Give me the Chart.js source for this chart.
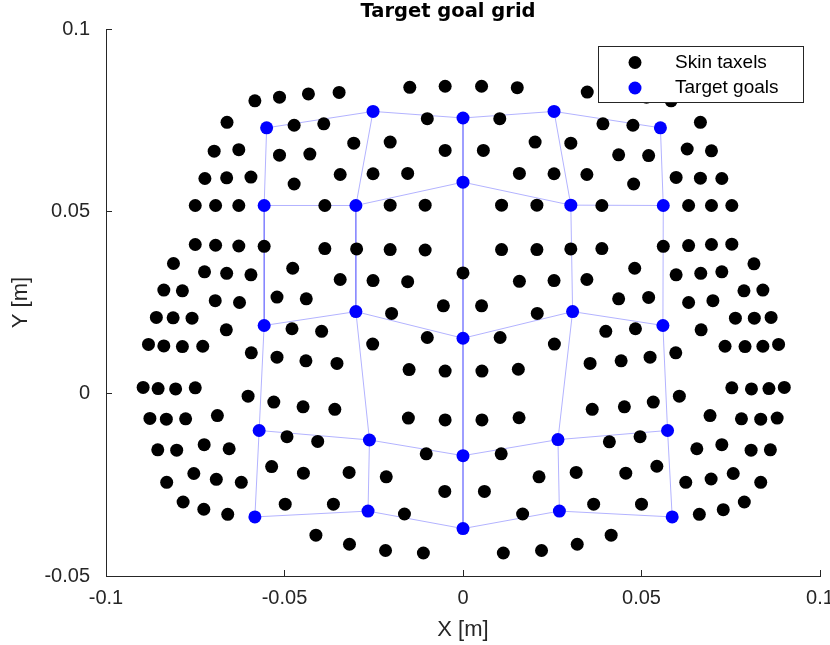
<!DOCTYPE html>
<html><head><meta charset="utf-8">
<script src="https://cdn.jsdelivr.net/npm/chart.js@4.4.1/dist/chart.umd.min.js"></script>
<style>html,body{margin:0;padding:0;background:#fff}#wrap{width:830px;height:645px}</style>
</head><body><div id="wrap"><canvas id="c" width="830" height="645"></canvas></div>
<script>
const chartTitle = 'Target goal grid';
const xAxisTitle = 'X [m]';
const yAxisTitle = 'Y [m]';
const seriesNames = ['Skin taxels', 'Target goals'];
const xTicks = [-0.1, -0.05, 0, 0.05, 0.1];
const xTickLabels = ['-0.1', '-0.05', '0', '0.05', '0.1'];
const yTicks = [-0.05, 0, 0.05, 0.1];
const yTickLabels = ['-0.05', '0', '0.05', '0.1'];

const taxelX = [
 -0.0583,-0.0514,-0.0433,-0.0347,-0.0149,-0.0050,0.0052,0.0152,0.0348,0.0433,0.0514,0.0583,
 -0.0661,-0.0473,-0.0390,-0.0100,0.0103,0.0392,0.0476,0.0665,
 -0.0697,-0.0628,-0.0514,-0.0429,-0.0306,-0.0204,-0.0050,0.0057,0.0202,0.0302,0.0436,0.0520,0.0628,0.0696,
 -0.0723,-0.0662,-0.0594,-0.0473,-0.0344,-0.0252,-0.0155,0.0158,0.0255,0.0347,0.0478,0.0597,0.0665,0.0725,
 -0.0750,-0.0693,-0.0628,-0.0387,-0.0204,-0.0106,0.0108,0.0207,0.0389,0.0632,0.0696,0.0753,
 -0.0750,-0.0693,-0.0628,-0.0557,-0.0387,-0.0298,-0.0204,-0.0106,0.0108,0.0207,0.0302,0.0389,0.0561,0.0632,0.0696,0.0753,
 -0.0811,-0.0724,-0.0662,-0.0594,-0.0477,-0.0344,-0.0252,-0.0155,0.0000,0.0158,0.0255,0.0347,0.0481,0.0597,0.0666,0.0725,0.0815,
 -0.0838,-0.0786,-0.0694,-0.0626,-0.0521,-0.0439,-0.0055,0.0052,0.0436,0.0520,0.0632,0.0700,0.0787,0.0840,
 -0.0859,-0.0812,-0.0759,-0.0663,-0.0479,-0.0396,-0.0200,0.0208,0.0400,0.0483,0.0667,0.0763,0.0816,0.0863,
 -0.0881,-0.0838,-0.0786,-0.0729,-0.0593,-0.0521,-0.0440,-0.0353,-0.0253,-0.0100,0.0104,0.0256,0.0356,0.0443,0.0524,0.0596,0.0734,0.0790,0.0840,0.0884,
 -0.0151,-0.0050,0.0053,0.0155,
 -0.0896,-0.0854,-0.0805,-0.0750,0.0753,0.0808,0.0857,0.0900,
 -0.0602,-0.0530,-0.0448,-0.0359,0.0362,0.0452,0.0533,0.0606,
 -0.0877,-0.0831,-0.0777,-0.0688,-0.0153,-0.0050,0.0053,0.0157,0.0692,0.0780,0.0834,0.0880,
 -0.0493,-0.0407,0.0410,0.0496,
 -0.0855,-0.0802,-0.0725,-0.0655,-0.0103,0.0107,0.0655,0.0725,0.0807,0.0861,
 -0.0830,-0.0754,-0.0691,-0.0621,-0.0536,-0.0447,-0.0319,-0.0215,-0.0051,0.0060,0.0213,0.0317,0.0456,0.0543,0.0624,0.0695,0.0757,0.0834,
 -0.0784,-0.0726,-0.0659,-0.0498,-0.0363,-0.0164,0.0167,0.0366,0.0500,0.0662,0.0729,0.0788,
 -0.0412,-0.0318,-0.0217,-0.0111,0.0113,0.0220,0.0320,0.0415
];
const taxelY = [
 0.0803,0.0813,0.0822,0.0826,0.0840,0.0843,0.0843,0.0839,0.0827,0.0822,0.0813,0.0803,
 0.0744,0.0736,0.0740,0.0754,0.0754,0.0740,0.0736,0.0744,
 0.0665,0.0669,0.0654,0.0657,0.0687,0.0690,0.0667,0.0667,0.0690,0.0687,0.0655,0.0653,0.0671,0.0666,
 0.0590,0.0592,0.0594,0.0575,0.0601,0.0603,0.0604,0.0604,0.0603,0.0601,0.0575,0.0593,0.0591,0.0590,
 0.0516,0.0516,0.0516,0.0516,0.0517,0.0517,0.0517,0.0517,0.0516,0.0516,0.0516,0.0516,
 0.0409,0.0407,0.0405,0.0404,0.0398,0.0397,0.0395,0.0394,0.0395,0.0395,0.0397,0.0398,0.0404,0.0406,0.0409,0.0410,
 0.0357,0.0334,0.0330,0.0326,0.0344,0.0313,0.0310,0.0307,0.0331,0.0308,0.0310,0.0313,0.0344,0.0326,0.0330,0.0334,0.0356,
 0.0284,0.0282,0.0255,0.0250,0.0265,0.0260,0.0241,0.0241,0.0260,0.0264,0.0250,0.0255,0.0282,0.0284,
 0.0209,0.0208,0.0207,0.0175,0.0178,0.0171,0.0220,0.0220,0.0171,0.0178,0.0175,0.0207,0.0207,0.0209,
 0.0135,0.0131,0.0129,0.0130,0.0112,0.0100,0.0090,0.0083,0.0136,0.0154,0.0154,0.0136,0.0083,0.0090,0.0100,0.0112,0.0130,0.0129,0.0130,0.0135,
 0.0066,0.0062,0.0062,0.0067,
 0.0017,0.0014,0.0013,0.0016,0.0016,0.0013,0.0014,0.0017,
 -0.0007,-0.0023,-0.0036,-0.0043,-0.0043,-0.0036,-0.0023,-0.0007,
 -0.0068,-0.0070,-0.0069,-0.0060,-0.0067,-0.0072,-0.0072,-0.0066,-0.0060,-0.0069,-0.0070,-0.0067,
 -0.0118,-0.0131,-0.0132,-0.0118,
 -0.0154,-0.0155,-0.0140,-0.0151,-0.0165,-0.0165,-0.0151,-0.0140,-0.0155,-0.0154,
 -0.0243,-0.0219,-0.0235,-0.0243,-0.0200,-0.0218,-0.0216,-0.0228,-0.0268,-0.0268,-0.0228,-0.0216,-0.0218,-0.0199,-0.0243,-0.0234,-0.0219,-0.0243,
 -0.0297,-0.0317,-0.0331,-0.0303,-0.0303,-0.0330,-0.0330,-0.0303,-0.0303,-0.0331,-0.0318,-0.0297,
 -0.0388,-0.0413,-0.0430,-0.0437,-0.0437,-0.0430,-0.0413,-0.0388
];

// target goals, 5 rows x 5 columns (row-major, top row first)
const goalX = [
 -0.0550,-0.0252,0.0000,0.0255,0.0553,
 -0.0557,-0.0300,0.0000,0.0302,0.0561,
 -0.0557,-0.0300,0.0000,0.0307,0.0560,
 -0.0571,-0.0262,0.0000,0.0266,0.0573,
 -0.0583,-0.0266,0.0000,0.0270,0.0586
];
const goalY = [
 0.0729,0.0774,0.0756,0.0774,0.0729,
 0.0516,0.0516,0.0580,0.0517,0.0516,
 0.0187,0.0225,0.0152,0.0225,0.0187,
 -0.0101,-0.0127,-0.0170,-0.0126,-0.0101,
 -0.0338,-0.0322,-0.0370,-0.0322,-0.0338
];
const gridRows = 5, gridCols = 5;

const AX = '#262626';
const taxelPts = taxelX.map((x, i) => ({x, y: taxelY[i]}));
const goalPts = goalX.map((x, i) => ({x, y: goalY[i]}));

const datasets = [
  {label: seriesNames[1], data: goalPts, backgroundColor: '#0000ff', borderWidth: 0, pointRadius: 6.5, pointHoverRadius: 6.5, order: 0},
  {label: seriesNames[0], data: taxelPts, backgroundColor: '#000000', borderWidth: 0, pointRadius: 6.5, pointHoverRadius: 6.5, order: 1}
];
const lineStyle = {showLine: true, pointRadius: 0, borderColor: 'rgba(0,0,255,0.3)', borderWidth: 1, order: 2, isGrid: true};
for (let r = 0; r < gridRows; r++) {
  const d = [];
  for (let c = 0; c < gridCols; c++) d.push(goalPts[r * gridCols + c]);
  datasets.push(Object.assign({label: 'row' + r, data: d}, lineStyle));
}
for (let c = 0; c < gridCols; c++) {
  const d = [];
  for (let r = 0; r < gridRows; r++) d.push(goalPts[r * gridCols + c]);
  datasets.push(Object.assign({label: 'col' + c, data: d}, lineStyle));
}

const overlay = {
  id: 'overlay',
  afterDraw(chart) {
    const ctx = chart.ctx, ca = chart.chartArea;
    ctx.save();
    // title
    ctx.font = 'bold 19.5px "DejaVu Sans"';
    ctx.fillStyle = '#000';
    ctx.textAlign = 'center';
    ctx.textBaseline = 'middle';
    ctx.fillText(chartTitle, (ca.left + ca.right) / 2 - 15, 12);
    // legend box
    const bx = ca.right - 222, by = ca.top + 17, bw = 205, bh = 56;
    ctx.fillStyle = '#ffffff';
    ctx.fillRect(bx, by, bw, bh);
    ctx.strokeStyle = AX;
    ctx.lineWidth = 1;
    ctx.strokeRect(bx + 0.5, by + 0.5, bw, bh);
    const entries = [
      {name: seriesNames[0], color: '#000000'},
      {name: seriesNames[1], color: '#0000ff'}
    ];
    ctx.font = '19px "Liberation Sans"';
    ctx.textAlign = 'left';
    entries.forEach((e, i) => {
      const cy = by + 16.5 + i * 25.5;
      ctx.beginPath();
      ctx.arc(bx + 37, cy, 6.5, 0, Math.PI * 2);
      ctx.fillStyle = e.color;
      ctx.fill();
      ctx.fillStyle = '#000';
      ctx.fillText(e.name, bx + 77, cy);
    });
    ctx.restore();
  }
};

new Chart(document.getElementById('c'), {
  type: 'scatter',
  data: {datasets},
  options: {
    responsive: false,
    animation: false,
    devicePixelRatio: 1,
    layout: {padding: {left: 0, top: 29, right: 10, bottom: 0}},
    plugins: {legend: {display: false}, title: {display: false}, tooltip: {enabled: false}},
    scales: {
      x: {
        type: 'linear', min: -0.1, max: 0.1,
        afterBuildTicks: s => { s.ticks = xTicks.map(v => ({value: v})); },
        ticks: {callback: (v, i) => xTickLabels[i], font: {family: 'Liberation Sans', size: 20}, color: AX, padding: 16, maxRotation: 0, autoSkip: false},
        grid: {drawOnChartArea: false, drawTicks: true, tickLength: -6, color: AX, lineWidth: 1},
        border: {display: true, color: AX, width: 1},
        title: {display: true, text: xAxisTitle, font: {family: 'Liberation Sans', size: 22}, color: AX, padding: {top: 0, bottom: 2}},
        afterFit: s => { s.height = 69; s.paddingLeft = 0; s.paddingRight = 0; }
      },
      y: {
        type: 'linear', min: -0.05, max: 0.1,
        afterBuildTicks: s => { s.ticks = yTicks.map(v => ({value: v})); },
        ticks: {callback: (v, i) => yTickLabels[i], font: {family: 'Liberation Sans', size: 20}, color: AX, padding: 22, autoSkip: false},
        grid: {drawOnChartArea: false, drawTicks: true, tickLength: -6, color: AX, lineWidth: 1},
        border: {display: true, color: AX, width: 1},
        title: {display: true, text: yAxisTitle, font: {family: 'Liberation Sans', size: 22}, color: AX, padding: {top: 8, bottom: 0}},
        afterFit: s => { s.width = 106; s.paddingTop = 0; s.paddingBottom = 0; }
      }
    }
  },
  plugins: [overlay]
});
</script>
</body></html>
